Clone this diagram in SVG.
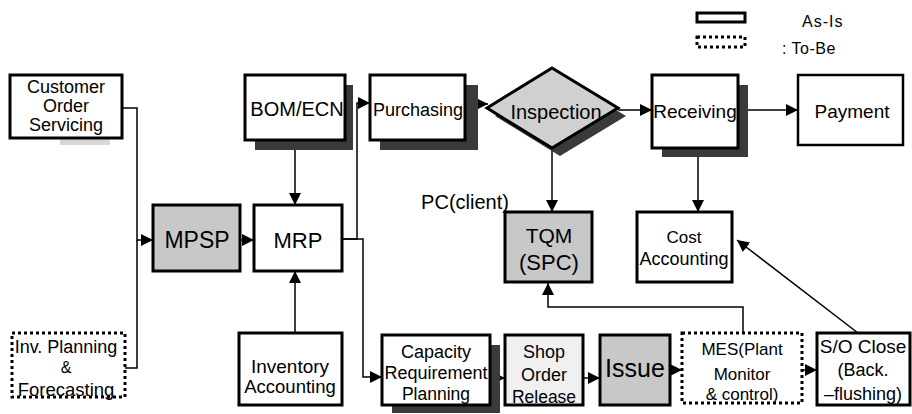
<svg xmlns="http://www.w3.org/2000/svg" width="912" height="414" viewBox="0 0 912 414">
<style>
text{font-family:"Liberation Sans",Arial,sans-serif;fill:#000;text-anchor:middle}
.box{fill:#fff;stroke:#000;stroke-width:3}
.gray{fill:#c8c8c8}
.dot{fill:#fff;stroke:#000;stroke-width:3;stroke-dasharray:3 3}
.sh{fill:#3a3a3a}
.con{fill:none;stroke:#000;stroke-width:1.5}
</style>
<defs>
<marker id="ah" markerUnits="userSpaceOnUse" markerWidth="13" markerHeight="12" refX="12" refY="6" orient="auto">
<path d="M0,0 L12,6 L0,12 Z" fill="#000"/>
</marker>
</defs>

<g id="legend">
<rect x="697" y="13" width="48" height="9" class="box"/>
<rect x="697" y="37" width="48" height="10" class="dot"/>
<text x="802" y="27" font-size="16" style="text-anchor:start" letter-spacing="1">As-Is</text>
<text x="782" y="54" font-size="16" style="text-anchor:start" letter-spacing="0.5">: To-Be</text>
</g>

<g id="connectors">
<path class="con" d="M122,108 H137 V240 H153" marker-end="url(#ah)"/>
<path class="con" d="M125,368 H137 V240"/>
<path class="con" d="M240,240 H254" marker-end="url(#ah)"/>
<path class="con" d="M295,150 V205" marker-end="url(#ah)"/>
<path class="con" d="M295,333 V271" marker-end="url(#ah)"/>
<path class="con" d="M342,239 H357 V103 H370" marker-end="url(#ah)"/>
<path class="con" d="M342,239 H363 V377 H382" marker-end="url(#ah)"/>
<path class="con" d="M478,104 H488" marker-end="url(#ah)"/>
<path class="con" d="M618,110 H652" marker-end="url(#ah)"/>
<path class="con" d="M748,110 H798" marker-end="url(#ah)"/>
<path class="con" d="M552,150 V212" marker-end="url(#ah)"/>
<path class="con" d="M698,157 V212" marker-end="url(#ah)"/>
<path class="con" d="M500,378 H505" marker-end="url(#ah)"/>
<path class="con" d="M583,378 H600" marker-end="url(#ah)"/>
<path class="con" d="M670,370 H682" marker-end="url(#ah)"/>
<path class="con" d="M802,370 H817" marker-end="url(#ah)"/>
<path class="con" d="M743,333 V307 H548 V283" marker-end="url(#ah)"/>
<path class="con" d="M858,333 L737,240" marker-end="url(#ah)"/>
</g>

<g id="customer-order-servicing">
<rect x="60" y="138" width="50" height="7" fill="#d8d8d8"/>
<rect x="10" y="75" width="112" height="63" class="box"/>
<text x="66" y="93" font-size="18">Customer</text>
<text x="66" y="112" font-size="18">Order</text>
<text x="66" y="131" font-size="18">Servicing</text>
</g>

<g id="inv-planning-forecasting">
<rect x="12" y="333" width="113" height="64" class="dot"/>
<text x="66" y="353" font-size="18">Inv. Planning</text>
<text x="66" y="373" font-size="16">&amp;</text>
<text x="66" y="396" font-size="18.5">Forecasting</text>
</g>

<g id="bom-ecn">
<rect x="255" y="85" width="98" height="65" class="sh"/>
<rect x="245" y="75" width="100" height="65" class="box"/>
<text x="297" y="116" font-size="20">BOM/ECN</text>
</g>

<g id="purchasing">
<rect x="380" y="85" width="98" height="65" class="sh"/>
<rect x="370" y="75" width="95" height="65" class="box"/>
<text x="418" y="116" font-size="18">Purchasing</text>
</g>

<g id="inspection">
<path d="M495,116 L560,76 L626,116 L560,156 Z" class="sh"/>
<path d="M487,108 L552,68 L618,108 L552,148 Z" fill="#d0d0d0" stroke="#000" stroke-width="3"/>
<text x="556" y="119" font-size="20">Inspection</text>
</g>

<g id="receiving">
<rect x="662" y="85" width="86" height="72" class="sh"/>
<rect x="652" y="75" width="86" height="73" class="box"/>
<text x="695" y="118" font-size="19">Receiving</text>
</g>

<g id="payment">
<rect x="798" y="75" width="105" height="70" class="box" style="stroke-width:2.5"/>
<text x="852" y="118" font-size="19">Payment</text>
</g>

<g id="mpsp">
<rect x="153" y="205" width="87" height="66" class="box gray"/>
<text x="197" y="248" font-size="23">MPSP</text>
</g>

<g id="mrp">
<rect x="254" y="205" width="88" height="66" class="box"/>
<text x="298" y="248" font-size="22">MRP</text>
</g>

<g id="pc-client-label">
<text x="465" y="209" font-size="20">PC(client)</text>
</g>

<g id="tqm-spc">
<rect x="505" y="212" width="87" height="70" class="box gray"/>
<text x="549" y="243" font-size="21">TQM</text>
<text x="549" y="270" font-size="22">(SPC)</text>
</g>

<g id="cost-accounting">
<rect x="637" y="212" width="95" height="70" class="box"/>
<text x="684" y="243" font-size="17">Cost</text>
<text x="684" y="265" font-size="18">Accounting</text>
</g>

<g id="inventory-accounting">
<rect x="239" y="333" width="103" height="72" class="box"/>
<text x="290" y="373" font-size="19">Inventory</text>
<text x="290" y="393" font-size="18.5">Accounting</text>
</g>

<g id="capacity-requirement-planning">
<rect x="392" y="345" width="108" height="68" class="sh"/>
<rect x="382" y="335" width="108" height="70" class="box"/>
<text x="436" y="358" font-size="18">Capacity</text>
<text x="436" y="379" font-size="18">Requirement</text>
<text x="436" y="400" font-size="17.5">Planning</text>
</g>

<g id="shop-order-release">
<rect x="505" y="335" width="78" height="70" class="box" style="fill:#f0f0f0"/>
<text x="544" y="358" font-size="18">Shop</text>
<text x="544" y="381" font-size="18">Order</text>
<text x="544" y="403" font-size="17.5">Release</text>
</g>

<g id="issue">
<rect x="600" y="335" width="70" height="70" class="box gray"/>
<text x="635" y="377" font-size="25">Issue</text>
</g>

<g id="mes">
<rect x="682" y="333" width="120" height="70" class="dot"/>
<text x="742" y="355" font-size="17">MES(Plant</text>
<text x="742" y="380" font-size="17">Monitor</text>
<text x="742" y="400" font-size="17">&amp; control)</text>
</g>

<g id="so-close">
<rect x="817" y="333" width="93" height="72" class="box"/>
<text x="863" y="353" font-size="19">S/O Close</text>
<text x="863" y="376" font-size="18">(Back.</text>
<text x="863" y="400" font-size="18">–flushing)</text>
</g>
</svg>
